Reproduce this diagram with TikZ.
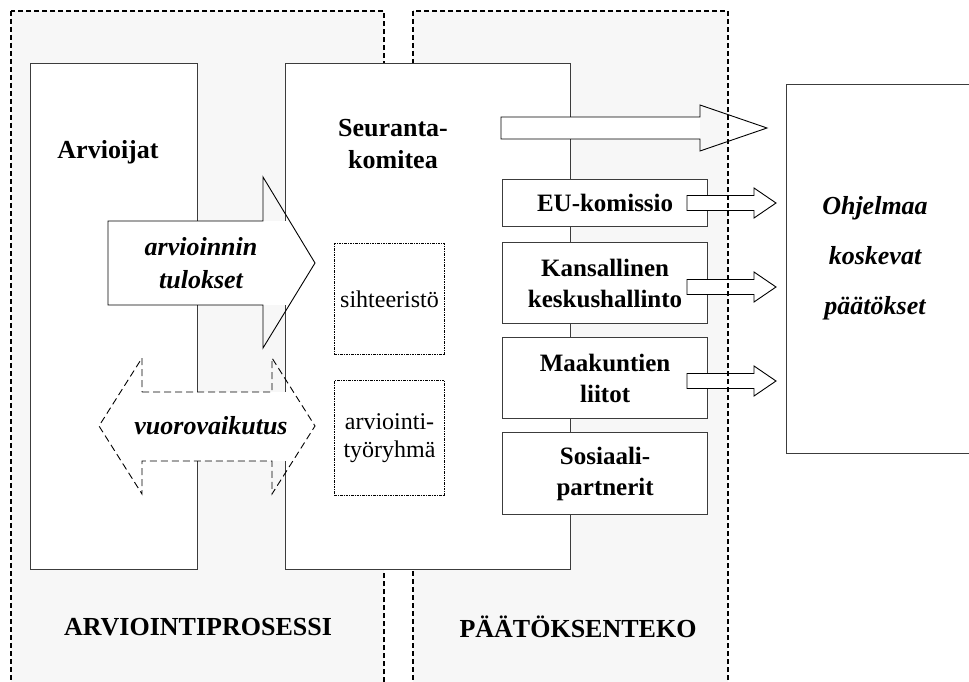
\documentclass[tikz,border=0pt]{standalone}
\usepackage{fontspec}
\setmainfont{Liberation Serif}
\definecolor{regionfill}{HTML}{F7F7F7}
\definecolor{boxline}{HTML}{3C3C3C}
\begin{document}
\begin{tikzpicture}[x=1pt,y=-1pt,
  region/.style={fill=regionfill, draw=black, line width=1.5pt, dash pattern=on 5pt off 3pt},
  regionedge/.style={draw=black, line width=1.5pt, dash pattern=on 5pt off 3pt},
  panel/.style={draw=boxline, fill=white, line width=1.2pt, anchor=north west, inner sep=0pt},
  actor/.style={draw=boxline, fill=white, line width=1.2pt, anchor=north west, inner sep=0pt,
    minimum width=205pt, align=center, font=\fontsize{25}{31}\selectfont\bfseries},
  dotbox/.style={draw=black, line width=1.1pt, dash pattern=on 2.5pt off 1pt on 1pt off 1pt,
    anchor=north west, inner sep=0pt, minimum width=110pt, align=center,
    font=\fontsize{24}{28}\selectfont},
  blockarrow/.style={draw=black, line width=0.9pt, line join=miter},
  dasharrow/.style={draw=black, line width=0.9pt, dash pattern=on 7pt off 4pt},
  heading/.style={inner sep=0pt, align=center, font=\fontsize{26}{32}\selectfont\bfseries},
  itlabel/.style={inner sep=0pt, align=center, font=\fontsize{26}{33}\selectfont\bfseries\itshape},
  caption/.style={inner sep=0pt, font=\fontsize{26}{30}\selectfont\bfseries}
]
\useasboundingbox (0,0) rectangle (969,682);
\clip (0,0) rectangle (969,682);

% the two shaded process areas
\draw[region] (11,11) rectangle (384,700);
\draw[region] (413,11) rectangle (728,700);

% main panels
\node[panel, minimum width=167pt, minimum height=506pt] (arvioijat) at (30,63) {};
\node[panel, minimum width=285pt, minimum height=506pt] (komitea) at (285,63) {};
\node[panel, minimum width=200pt, minimum height=369pt] (paatokset) at (786,84) {};

\node[heading] (arvioijatT) at (108,152) {Arvioijat};
\node[heading] (komiteaT) at (393,144) {Seuranta-\\komitea};

% decision makers
\node[actor, minimum height=47pt] (eu) at (502,179) {EU-komissio};
\node[actor, minimum height=81pt] (kansa) at (502,242) {Kansallinen\\keskushallinto};
\node[actor, minimum height=81pt] (maak) at (502,337) {Maakuntien\\liitot};
\node[actor, minimum height=82pt] (sos) at (502,432) {Sosiaali-\\partnerit};

% working bodies of the committee
\node[dotbox, minimum height=111pt] (siht) at (334,243) {sihteeristö};
\node[dotbox, minimum height=115pt] (tyor) at (334,380) {arviointi-\\työryhmä};

% results of the evaluation
\fill[white] (108,221) rectangle (290,305);
\draw[blockarrow] (108,221) -- (263,221) -- (263,177) -- (315,263) -- (263,348)
  -- (263,305) -- (108,305) -- cycle;
\node[itlabel] (tulokset) at (201,263) {arvioinnin\\tulokset};

% interaction
\fill[white] (142,392) rectangle (290,461);
\draw[dasharrow] (142,392) -- (272,392) -- (272,358) -- (315,426) -- (272,494)
  -- (272,461) -- (142,461) -- (142,494) -- (99,426) -- (142,358) -- cycle;
\node[itlabel] (vuoro) at (211,426) {vuorovaikutus};

% committee output
\fill[white] (501,117) rectangle (700,139);
\draw[blockarrow] (501,117) -- (700,117) -- (700,105) -- (767,128) -- (700,151)
  -- (700,139) -- (501,139) -- cycle;

% outputs of the decision makers
\foreach \yc in {203,287,381}{
  \draw[blockarrow, fill=white] (687,\yc-7.5) -- (754,\yc-7.5) -- (754,\yc-15) -- (776,\yc)
    -- (754,\yc+15) -- (754,\yc+7.5) -- (687,\yc+7.5) -- cycle;
}

\draw[regionedge] (728,11) -- (728,700);

\node[itlabel, font=\fontsize{26}{50}\selectfont\bfseries\itshape] (paatoksetT) at (875,258)
  {Ohjelmaa\\koskevat\\päätökset};

\node[caption] (prosessi) at (198,627) {ARVIOINTIPROSESSI};
\node[caption] (teko) at (578,627) {PÄÄTÖKSENTEKO};
\end{tikzpicture}
\end{document}
